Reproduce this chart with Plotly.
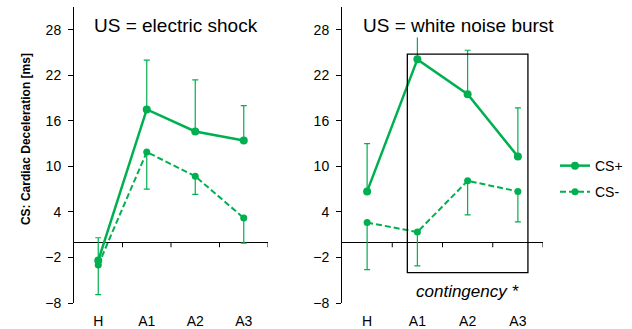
import plotly.graph_objects as go

categories = ["H", "A1", "A2", "A3"]

# Panel 1: US = electric shock
shock_csp = [-2.4, 17.5, 14.6, 13.4]
shock_csp_err = [3.0, 6.5, 6.8, 4.6]
shock_csm = [-3.0, 11.9, 8.7, 3.2]
shock_csm_err = [3.9, 4.9, 2.4, 3.3]

# Panel 2: US = white noise burst
noise_csp = [6.7, 24.1, 19.5, 11.3]
noise_csp_err = [6.3, 5.4, 5.8, 6.4]
noise_csm = [2.6, 1.35, 8.1, 6.7]
noise_csm_err = [6.2, 4.45, 4.5, 4.0]

y_ticks = [-8, -2, 4, 10, 16, 22, 28]
y_range = [-8, 31]
contingency_box = dict(x0=0.8, x1=3.2, y0=-4.0, y1=24.8)

GREEN = "#00B050"
FONT = "Liberation Sans, Arial, sans-serif"

W, H = 632, 329
M_T, M_B = 7, 24
PH = H - M_T - M_B


def py(ypx):
    return (H - M_B - ypx) / PH


fig = go.Figure()


def add_panel(xa, ya, csp, csp_err, csm, csm_err, legend):
    fig.add_trace(go.Scatter(
        x=categories, y=csp, xaxis=xa, yaxis=ya, name="CS+",
        mode="lines+markers", showlegend=legend, legendgroup="p",
        line=dict(color=GREEN, width=2.5), marker=dict(size=8, color=GREEN),
        error_y=dict(type="data", symmetric=False, array=csp_err,
                     arrayminus=[0] * len(csp), color=GREEN, thickness=1.2, width=3),
    ))
    fig.add_trace(go.Scatter(
        x=categories, y=csm, xaxis=xa, yaxis=ya, name="CS-",
        mode="lines+markers", showlegend=legend, legendgroup="m",
        line=dict(color=GREEN, width=2, dash="6px,3px"), marker=dict(size=7, color=GREEN),
        error_y=dict(type="data", symmetric=False, array=[0] * len(csm),
                     arrayminus=csm_err, color=GREEN, thickness=1.2, width=3),
    ))


add_panel("x", "y", shock_csp, shock_csp_err, shock_csm, shock_csm_err, False)
add_panel("x2", "y2", noise_csp, noise_csp_err, noise_csm, noise_csm_err, True)

xcommon = dict(type="category", range=[-0.5, len(categories) - 0.5], showline=False,
               showgrid=False, zeroline=False, ticks="", ticklabelstandoff=8,
               tickfont=dict(family=FONT, size=14, color="black"))
ycommon = dict(range=y_range, tickvals=y_ticks, showline=True, linecolor="black", linewidth=1,
               ticks="outside", ticklen=5, tickcolor="black", showgrid=False,
               zeroline=True, zerolinecolor="black", zerolinewidth=1, ticklabelstandoff=4,
               tickfont=dict(family=FONT, size=14, color="black"))

fig.update_layout(
    width=W, height=H,
    margin=dict(l=0, r=0, t=M_T, b=M_B),
    paper_bgcolor="white", plot_bgcolor="white",
    xaxis=dict(domain=[74 / W, 268 / W], anchor="y", **xcommon),
    yaxis=dict(domain=[0, 1], anchor="x", **ycommon),
    xaxis2=dict(domain=[342 / W, 543 / W], anchor="y2", **xcommon),
    yaxis2=dict(domain=[0, 1], anchor="x2", **ycommon),
    showlegend=True,
    legend=dict(x=555 / W, y=py(151), xanchor="left", yanchor="top",
                font=dict(family=FONT, size=14, color="black"),
                tracegroupgap=5, bgcolor="rgba(0,0,0,0)"),
    font=dict(family=FONT),
)

# category boundary tick marks on the zero line
shapes = []
for xa, ya in (("x", "y"), ("x2", "y2")):
    for i in range(1, len(categories) + 1):
        p = i - 0.5
        shapes.append(dict(type="line", xref=xa, yref=ya, ysizemode="pixel", yanchor=0,
                           x0=p, x1=p, y0=0, y1=-5, line=dict(color="black", width=1)))
shapes.append(dict(type="rect", xref="x2", yref="y2", **contingency_box,
                   line=dict(color="black", width=1.3), fillcolor="rgba(0,0,0,0)"))
fig.update_layout(shapes=shapes)

fig.add_annotation(text="US = electric shock", xref="paper", yref="paper",
                   x=176 / W, y=py(26), xanchor="center", yanchor="middle", showarrow=False,
                   font=dict(family=FONT, size=19, color="black"), bgcolor="white", borderpad=1)
fig.add_annotation(text="US = white noise burst", xref="paper", yref="paper",
                   x=458 / W, y=py(26), xanchor="center", yanchor="middle", showarrow=False,
                   font=dict(family=FONT, size=19, color="black"), bgcolor="white", borderpad=1)
fig.add_annotation(text="<i>contingency *</i>", xref="paper", yref="paper",
                   x=468 / W, y=py(293), xanchor="center", yanchor="middle", showarrow=False,
                   font=dict(family=FONT, size=17, color="black"))
fig.add_annotation(text="<b>CS: Cardiac Deceleration [ms]</b>", xref="paper", yref="paper",
                   x=26 / W, y=py(140), xanchor="center", yanchor="middle", showarrow=False,
                   textangle=-90, font=dict(family=FONT, size=12, color="black"))

fig.write_html("out.html")
